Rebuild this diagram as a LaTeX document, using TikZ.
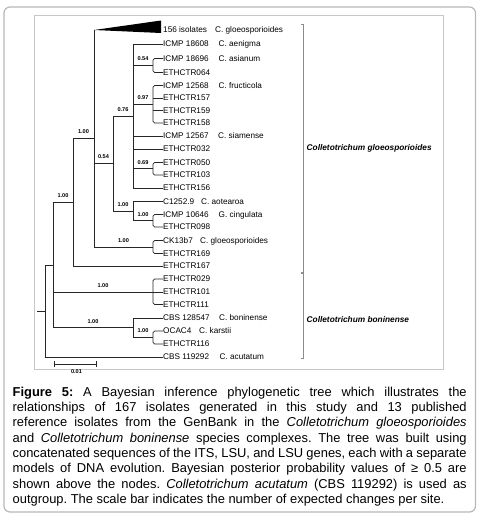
\documentclass[tikz,border=0pt]{standalone}
\usepackage{fontspec}
\setmainfont{Liberation Sans}
\begin{document}
\frenchspacing
\begin{tikzpicture}[x=1pt,y=-1pt,
  leaf/.style={anchor=west, inner sep=0pt, text height=5.9pt, text depth=0pt, font=\fontsize{8.2}{9}\selectfont},
  supp/.style={font=\fontsize{5.6}{6}\selectfont\bfseries, above=4.2pt, inner sep=0pt},
  tree/.style={line width=0.8pt, draw=black!85},
  rc/.style={rounded corners=1.6pt},
  frameout/.style={draw=black!28, line width=1.2pt, rounded corners=6pt},
  framein/.style={draw=black!22, line width=1pt},
  cladebr/.style={draw=black!45, line width=0.8pt},
  cladelab/.style={anchor=west, inner sep=0pt, font=\fontsize{8.3}{9}\selectfont\bfseries\itshape}]
\useasboundingbox (0,0) rectangle (480,520);
\fill[white] (0,0) rectangle (480,520);
\draw[frameout] (4,7) rectangle (475.5,512);
\draw[framein] (34.5,15) rectangle (443.5,369);

% leaves
\foreach \i/\y/\t in {0/30/156 isolates, 1/44/ICMP 18608, 2/58.5/ICMP 18696, 3/72.5/ETHCTR064,
  4/85.5/ICMP 12568, 5/98/ETHCTR157, 6/110.5/ETHCTR159, 7/123/ETHCTR158, 8/136/ICMP 12567,
  9/149/ETHCTR032, 10/162.5/ETHCTR050, 11/175/ETHCTR103, 12/188/ETHCTR156, 13/201.5/C1252.9,
  14/214.5/ICMP 10646, 15/227/ETHCTR098, 16/240.5/CK13b7, 17/253.5/ETHCTR169, 18/266/ETHCTR167,
  19/279/ETHCTR029, 20/292/ETHCTR101, 21/304.5/ETHCTR111, 22/318/CBS 128547, 23/331/OCAC4,
  24/344/ETHCTR116, 25/357/CBS 119292}
  \node[leaf] (l\i) at (163,\y) {\t};

% species names
\node[leaf] (s0) at (215,30) {C. gloeosporioides};
\node[leaf] (s1) at (218.5,44) {C. aenigma};
\node[leaf] (s2) at (218.5,58.5) {C. asianum};
\node[leaf] (s4) at (218.5,85.5) {C. fructicola};
\node[leaf] (s8) at (218,136) {C. siamense};
\node[leaf] (s13) at (201,201.5) {C. aotearoa};
\node[leaf] (s14) at (218.5,214.5) {G. cingulata};
\node[leaf] (s16) at (200,240.5) {C. gloeosporioides};
\node[leaf] (s22) at (219,318) {C. boninense};
\node[leaf] (s23) at (199,331) {C. karstii};
\node[leaf] (s25) at (219.5,357) {C. acutatum};

% internal nodes
\coordinate (tip) at (94,30);
\coordinate (c54a) at (153,65.5);
\coordinate (c97) at (153,104.25);
\coordinate (c69) at (153,168.75);
\coordinate (cCi) at (153,220.75);
\coordinate (cCK) at (153,247);
\coordinate (c029) at (153,292);
\coordinate (cOC) at (153,337.5);
\coordinate (D) at (133,116);
\coordinate (E) at (133,211.1);
\coordinate (C) at (113,163.6);
\coordinate (B) at (94,138.5);
\coordinate (A) at (73,202.25);
\coordinate (Bn) at (133,327.75);
\coordinate (I) at (53,265);
\coordinate (R) at (45,311);
\coordinate (stem) at (37,311);

% collapsed clade
\fill[black] (tip) -- (161,20.5) -- (161,33) -- cycle;

% small bracket clades
\draw[tree,rc] (l2.west) -| (c54a) |- (l3.west);
\draw[tree,rc] (l4.west) -| (c97) |- (l7.west);
\draw[tree] (c97 |- l5.west) -- (l5.west);
\draw[tree] (c97 |- l6.west) -- (l6.west);
\draw[tree,rc] (l10.west) -| (c69) |- (l11.west);
\draw[tree,rc] (l14.west) -| (cCi) |- (l15.west);
\draw[tree,rc] (l16.west) -| (cCK) |- (l17.west);
\draw[tree,rc] (l19.west) -| (c029) |- (l21.west);
\draw[tree] (c029) -- (l20.west);
\draw[tree,rc] (l23.west) -| (cOC) |- (l24.west);

% node D
\draw[tree] (D) |- (l1.west);
\draw[tree] (D) |- (c54a) node[pos=0.75,supp] {0.54};
\draw[tree] (D) |- (c97) node[pos=0.75,supp] {0.97};
\draw[tree] (D) |- (l8.west);
\draw[tree] (D) |- (l9.west);
\draw[tree] (D) |- (c69) node[pos=0.75,supp] {0.69};
\draw[tree] (D) |- (l12.west);
% node E
\draw[tree] (E) |- (l13.west);
\draw[tree] (E) |- (cCi) node[pos=0.75,supp] {1.00};
% node C
\draw[tree] (C) |- (D) node[pos=0.75,supp] {0.76};
\draw[tree] (C) |- (E) node[pos=0.75,supp] {1.00};
% node B
\draw[tree] (B) |- (tip);
\draw[tree] (B) |- (C) node[pos=0.75,supp] {0.54};
\draw[tree] (B) |- (cCK) node[pos=0.75,supp] {1.00};
% node A
\draw[tree] (A) |- (B) node[pos=0.75,supp] {1.00};
\draw[tree] (A) |- (l18.west);
% boninense node
\draw[tree] (Bn) |- (l22.west);
\draw[tree] (Bn) |- (cOC) node[pos=0.75,supp] {1.00};
% ingroup
\draw[tree] (I) |- (A) node[pos=0.75,supp] {1.00};
\draw[tree] (I) |- (c029) node[pos=0.75,supp] {1.00};
\draw[tree] (I) |- (Bn) node[pos=0.75,supp] {1.00};
% root
\draw[tree] (R) |- (I);
\draw[tree] (R) |- (l25.west);
\draw[tree] (stem) -- (R);

% clade brackets
\draw[cladebr] (301,24) -- (303,24) -- (303,272) -- (301,272);
\draw[cladebr] (301,273.5) -- (303,273.5) -- (303,358) -- (301,358);
\node[cladelab] (gl) at (306.5,148) {Colletotrichum gloeosporioides};
\node[cladelab] (bo) at (306.5,320) {Colletotrichum boninense};

% scale bar
\coordinate (sb1) at (54,364);
\coordinate (sb2) at (96,364);
\draw[tree,line width=0.7pt] (sb1) -- (sb2);
\draw[tree,line width=0.7pt] ([yshift=3pt]sb1) -- ([yshift=-3pt]sb1);
\draw[tree,line width=0.7pt] ([yshift=3pt]sb2) -- ([yshift=-3pt]sb2);
\node[font=\fontsize{5.6}{6}\selectfont\bfseries, inner sep=0pt] (sbl) at (76.5,371.5) {0.01};

% caption
\node[anchor=north west, inner sep=0pt, text width=454pt, align=justify,
  font=\fontsize{12.9}{15.3}\selectfont] (cap) at (12.5,386)
{\rule{0pt}{10pt}\textbf{Figure 5:} A Bayesian inference phylogenetic tree which illustrates the\linebreak
relationships of 167 isolates generated in this study and 13 published\linebreak
reference isolates from the GenBank in the \textit{Colletotrichum gloeosporioides}\linebreak
and \textit{Colletotrichum boninense} species complexes. The tree was built using\linebreak
concatenated sequences of the ITS, LSU, and LSU genes, each with a separate\linebreak
models of DNA evolution. Bayesian posterior probability values of ≥ 0.5 are\linebreak
shown above the nodes. \textit{Colletotrichum acutatum} (CBS 119292) is used as\linebreak
outgroup. The scale bar indicates the number of expected changes per site.};
\end{tikzpicture}
\end{document}
